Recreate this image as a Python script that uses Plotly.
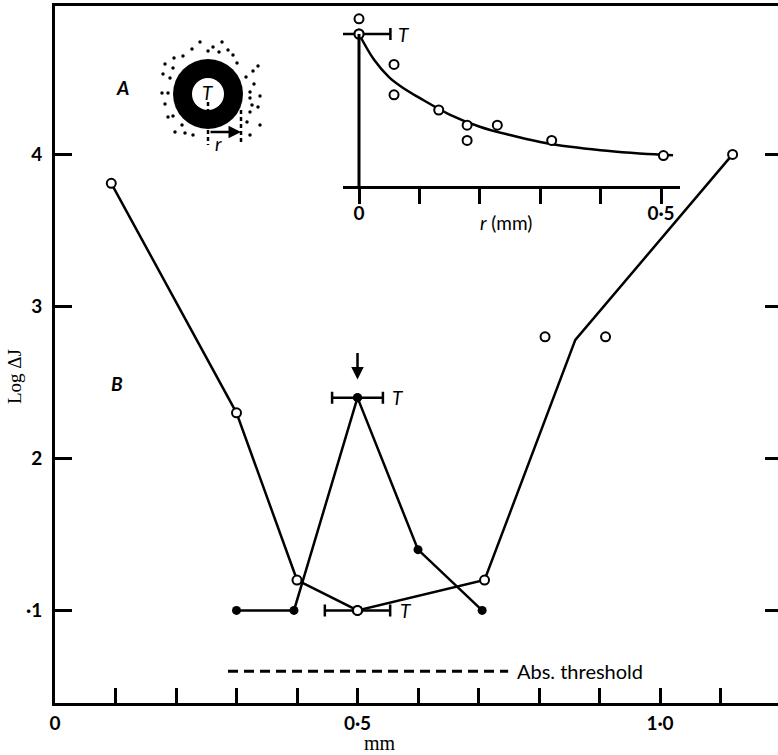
import plotly.graph_objects as go

# ---- Main panel (B): log increment threshold vs position (mm) ----
open_x = [0.093, 0.30, 0.40, 0.50, 0.71, 0.86, 1.12]
open_y = [3.81, 2.30, 1.20, 1.00, 1.20, 2.78, 4.00]
open_marked = [True, True, True, True, True, False, True]   # 0.86 is the mean of the two 2.8 points
extra_open_x = [0.81, 0.91]
extra_open_y = [2.80, 2.80]

filled_x = [0.30, 0.395, 0.50, 0.60, 0.706]
filled_y = [1.00, 1.00, 2.40, 1.40, 1.00]

test_err_filled = 0.042   # half-width of test spot T (upper bar)
test_err_open = 0.054     # half-width of test spot T (lower bar)

abs_threshold_y = 0.60
abs_threshold_x = [0.286, 0.749]

x_tick_vals = [0.0, 0.1, 0.2, 0.3, 0.4, 0.5, 0.6, 0.7, 0.8, 0.9, 1.0, 1.1]
x_tick_text = ["0", "", "", "", "", "0·5", "", "", "", "", "1·0", ""]
y_tick_vals = [1, 2, 3, 4]
y_tick_text = ["·1", "2", "3", "4"]

# ---- Inset (A): threshold vs annulus radius r ----
inset_r = [0.0, 0.0, 0.058, 0.058, 0.132, 0.179, 0.179, 0.229, 0.319, 0.504]
inset_y = [1.10, 1.00, 0.80, 0.60, 0.50, 0.40, 0.30, 0.40, 0.30, 0.20]
inset_curve_r = [0.0, 0.025, 0.05, 0.075, 0.10, 0.15, 0.20, 0.25, 0.30, 0.35, 0.40, 0.45, 0.50, 0.52]
inset_curve_y = [1.00, 0.83, 0.715, 0.64, 0.58, 0.47, 0.39, 0.335, 0.29, 0.258, 0.235, 0.218, 0.205, 0.202]
inset_err = 0.052
inset_tick_vals = [0.0, 0.1, 0.2, 0.3, 0.4, 0.5]
inset_tick_text = ["0", "", "", "", "", "0·5"]

# ---- Stimulus sketch: test spot T inside a black annulus, dotted surround ----
ring_outer_d = 70
ring_inner_d = 32
dot_dx = [-8, 5, 14, 20, -16, -25, -34, 0, 11, 25, 29, -43, -35, -45, -38, 38, 45, -46, -40, 42,
          52, 42, -43, 44, 50, -40, -35, 42, 39, 52, -26, -33, -23, -15, 42, 46, 50]
dot_dy = [52, 47, 52, 44, 45, 38, 36, 43, 42, 39, 31, 30, 26, 20, 16, 17, 23, 1, 1, 2,
          -2, -4, -10, -11, -13, -23, -22, -18, -28, -31, -31, -38, -39, -41, -41, 10, 28]

# ---- layout geometry (pixels) ----
W, H = 778, 755
ML, MR, MT, MB = 55, 0, 6, 52
PW, PH = W - ML - MR, H - MT - MB
PX_PER_MM = 605.0
PX_PER_LOG = 152.0
x_range = [0, PW / PX_PER_MM]
y_bottom = 0.391
y_range = [y_bottom, y_bottom + PH / PX_PER_LOG]


def fx(px):
    return (px - ML) / PW


def fy(py):
    return (H - MB - py) / PH


BLACK = "#000000"
SANS = "Lato, 'Open Sans', sans-serif"
SERIF = "'Liberation Serif', 'DejaVu Serif', serif"

INSET_BASE_PY = 186
INSET_TOP = 1.13

fig = go.Figure()

# open-circle series
fig.add_trace(go.Scatter(
    x=open_x, y=open_y, mode="lines", line=dict(color=BLACK, width=2.5),
    hoverinfo="skip", showlegend=False))
fig.add_trace(go.Scatter(
    x=[x for x, m in zip(open_x, open_marked) if m] + extra_open_x,
    y=[y for y, m in zip(open_y, open_marked) if m] + extra_open_y,
    mode="markers",
    marker=dict(symbol="circle", size=9, color="white", line=dict(color=BLACK, width=2)),
    hoverinfo="skip", showlegend=False, cliponaxis=False))

# filled-circle series
fig.add_trace(go.Scatter(
    x=filled_x, y=filled_y, mode="lines+markers", line=dict(color=BLACK, width=2.5),
    marker=dict(symbol="circle", size=9, color=BLACK),
    hoverinfo="skip", showlegend=False))

# test-spot extent bars
fig.add_trace(go.Scatter(
    x=[filled_x[2]], y=[filled_y[2]], mode="markers",
    marker=dict(size=9, color=BLACK),
    error_x=dict(type="constant", value=test_err_filled, color=BLACK, thickness=2.5, width=6),
    hoverinfo="skip", showlegend=False))
fig.add_trace(go.Scatter(
    x=[open_x[3]], y=[open_y[3]], mode="markers",
    marker=dict(size=9, color="white", line=dict(color=BLACK, width=2)),
    error_x=dict(type="constant", value=test_err_open, color=BLACK, thickness=2.5, width=6),
    hoverinfo="skip", showlegend=False))

# absolute threshold
fig.add_trace(go.Scatter(
    x=abs_threshold_x, y=[abs_threshold_y, abs_threshold_y], mode="lines",
    line=dict(color=BLACK, width=3, dash="10px,6px"),
    hoverinfo="skip", showlegend=False))

# right-hand tick marks
fig.add_trace(go.Scatter(x=[], y=[], yaxis="y4", showlegend=False, hoverinfo="skip"))

# inset
fig.add_trace(go.Scatter(
    x=inset_curve_r, y=inset_curve_y, xaxis="x2", yaxis="y2", mode="lines",
    line=dict(color=BLACK, width=2.5, shape="spline", smoothing=1.0),
    hoverinfo="skip", showlegend=False, cliponaxis=False))
fig.add_trace(go.Scatter(
    x=inset_r, y=inset_y, xaxis="x2", yaxis="y2", mode="markers",
    marker=dict(symbol="circle", size=9, color="white", line=dict(color=BLACK, width=2)),
    hoverinfo="skip", showlegend=False, cliponaxis=False))
fig.add_trace(go.Scatter(
    x=[inset_r[1]], y=[inset_y[1]], xaxis="x2", yaxis="y2", mode="markers",
    marker=dict(size=9, color="white", line=dict(color=BLACK, width=2)),
    error_x=dict(type="constant", value=inset_err, color=BLACK, thickness=2.5, width=6),
    hoverinfo="skip", showlegend=False, cliponaxis=False))

# stimulus sketch
fig.add_trace(go.Scatter(
    x=dot_dx, y=dot_dy, xaxis="x3", yaxis="y3", mode="markers",
    marker=dict(size=3.5, color=BLACK), hoverinfo="skip", showlegend=False))
fig.add_trace(go.Scatter(
    x=[0], y=[0], xaxis="x3", yaxis="y3", mode="markers",
    marker=dict(size=ring_outer_d, color=BLACK, line=dict(width=0)),
    hoverinfo="skip", showlegend=False))
fig.add_trace(go.Scatter(
    x=[0], y=[0], xaxis="x3", yaxis="y3", mode="markers",
    marker=dict(size=ring_inner_d, color="white", line=dict(width=0)),
    hoverinfo="skip", showlegend=False))
for xx, y0 in [(0, -8), (33, -16)]:
    fig.add_trace(go.Scatter(
        x=[xx, xx], y=[y0, -51], xaxis="x3", yaxis="y3", mode="lines",
        line=dict(color=BLACK, width=2.5, dash="4px,3px"),
        hoverinfo="skip", showlegend=False))

annotations = [
    # axis titles
    dict(text="Log ΔJ", x=fx(15), y=fy(377), xref="paper", yref="paper", showarrow=False,
         xanchor="center", yanchor="middle",
         textangle=-90, font=dict(family=SERIF, size=19, color=BLACK)),
    dict(text="mm", x=fx(380), y=fy(743), xref="paper", yref="paper", showarrow=False,
         xanchor="center", yanchor="middle",
         font=dict(family=SERIF, size=20, color=BLACK)),
    # panel letters
    dict(text="<i>A</i>", x=0.111, y=4.44, xref="x", yref="y", showarrow=False,
         font=dict(family=SANS, size=19, color=BLACK, weight="bold")),
    dict(text="<i>B</i>", x=0.102, y=2.49, xref="x", yref="y", showarrow=False,
         font=dict(family=SANS, size=19, color=BLACK, weight="bold")),
    # T labels
    dict(text="<i>T</i>", x=filled_x[2] + test_err_filled, y=filled_y[2], xref="x", yref="y",
         xanchor="left", xshift=7, showarrow=False, font=dict(family=SANS, size=19, color=BLACK)),
    dict(text="<i>T</i>", x=open_x[3] + test_err_open, y=open_y[3], xref="x", yref="y",
         xanchor="left", xshift=8, showarrow=False, font=dict(family=SANS, size=19, color=BLACK)),
    dict(text="<i>T</i>", x=inset_r[1] + inset_err, y=inset_y[1], xref="x2", yref="y2",
         xanchor="left", xshift=6, showarrow=False, font=dict(family=SANS, size=19, color=BLACK)),
    # arrow over the peak
    dict(text="", x=filled_x[2], y=2.52, xref="x", yref="y", showarrow=True,
         ax=0, ay=-28, arrowhead=2, arrowsize=1, arrowwidth=2.5, arrowcolor=BLACK, standoff=0),
    # absolute threshold label
    dict(text="Abs. threshold", x=abs_threshold_x[1], y=abs_threshold_y, xref="x", yref="y",
         xanchor="left", xshift=7, showarrow=False, font=dict(family=SANS, size=20, color=BLACK)),
    # inset axis title
    dict(text="<i>r</i> (mm)", x=fx(506), y=fy(222), xref="paper", yref="paper", showarrow=False,
         xanchor="center", yanchor="middle",
         font=dict(family=SANS, size=19, color=BLACK)),
    # sketch labels
    dict(text="<i>T</i>", x=0, y=2, xref="x3", yref="y3", showarrow=False,
         font=dict(family=SANS, size=19, color=BLACK)),
    dict(text="<i>r</i>", x=10, y=-49, xref="x3", yref="y3", showarrow=False,
         font=dict(family=SANS, size=19, color=BLACK)),
    dict(text="", x=33, y=-38, ax=1, ay=-38, xref="x3", yref="y3", axref="x3", ayref="y3",
         showarrow=True, arrowhead=2, arrowsize=1, arrowwidth=2.5, arrowcolor=BLACK, standoff=0),
]

# inset ordinate line, from the baseline up to the level of the central point
shapes = [
    dict(type="line", xref="x2", yref="y2", x0=0, x1=0, y0=0, y1=inset_y[1],
         line=dict(color=BLACK, width=3)),
]

tick_font = dict(family=SANS, size=19, color=BLACK, weight="bold")

fig.update_layout(
    width=W, height=H,
    margin=dict(l=ML, r=MR, t=MT, b=MB, pad=0),
    paper_bgcolor="white", plot_bgcolor="rgba(0,0,0,0)",
    showlegend=False,
    xaxis=dict(range=x_range, tickvals=x_tick_vals, ticktext=x_tick_text,
               ticks="inside", ticklen=15, tickwidth=3, tickcolor=BLACK,
               showline=True, linewidth=3, linecolor=BLACK, mirror=True,
               showgrid=False, zeroline=False, tickfont=tick_font, ticklabelstandoff=1),
    yaxis=dict(range=y_range, tickvals=y_tick_vals, ticktext=y_tick_text,
               ticks="inside", ticklen=17, tickwidth=3, tickcolor=BLACK,
               showline=True, linewidth=3, linecolor=BLACK,
               showgrid=False, zeroline=False, tickfont=tick_font, ticklabelstandoff=6),
    yaxis4=dict(range=y_range, overlaying="y", side="right", anchor="x",
                tickvals=y_tick_vals, showticklabels=False,
                ticks="inside", ticklen=13, tickwidth=3, tickcolor=BLACK,
                showline=False, showgrid=False, zeroline=False),
    xaxis2=dict(domain=[fx(343), fx(680)], range=[-16 / 604, 321 / 604], anchor="y2",
                tickvals=inset_tick_vals, ticktext=inset_tick_text,
                ticks="outside", ticklen=15, tickwidth=3, tickcolor=BLACK,
                showline=True, linewidth=3, linecolor=BLACK,
                showgrid=False, zeroline=False, tickfont=tick_font, ticklabelstandoff=-7),
    yaxis2=dict(domain=[fy(INSET_BASE_PY), fy(INSET_BASE_PY - INSET_TOP * PX_PER_LOG)],
                range=[0, INSET_TOP], anchor="x2",
                showline=False, ticks="", showticklabels=False,
                showgrid=False, zeroline=False),
    xaxis3=dict(domain=[fx(150), fx(270)], range=[-58, 62], visible=False, anchor="y3"),
    yaxis3=dict(domain=[fy(155), fy(35)], range=[-61, 59], visible=False, anchor="x3"),
    annotations=annotations,
    shapes=shapes,
)

fig.write_html("out.html")
